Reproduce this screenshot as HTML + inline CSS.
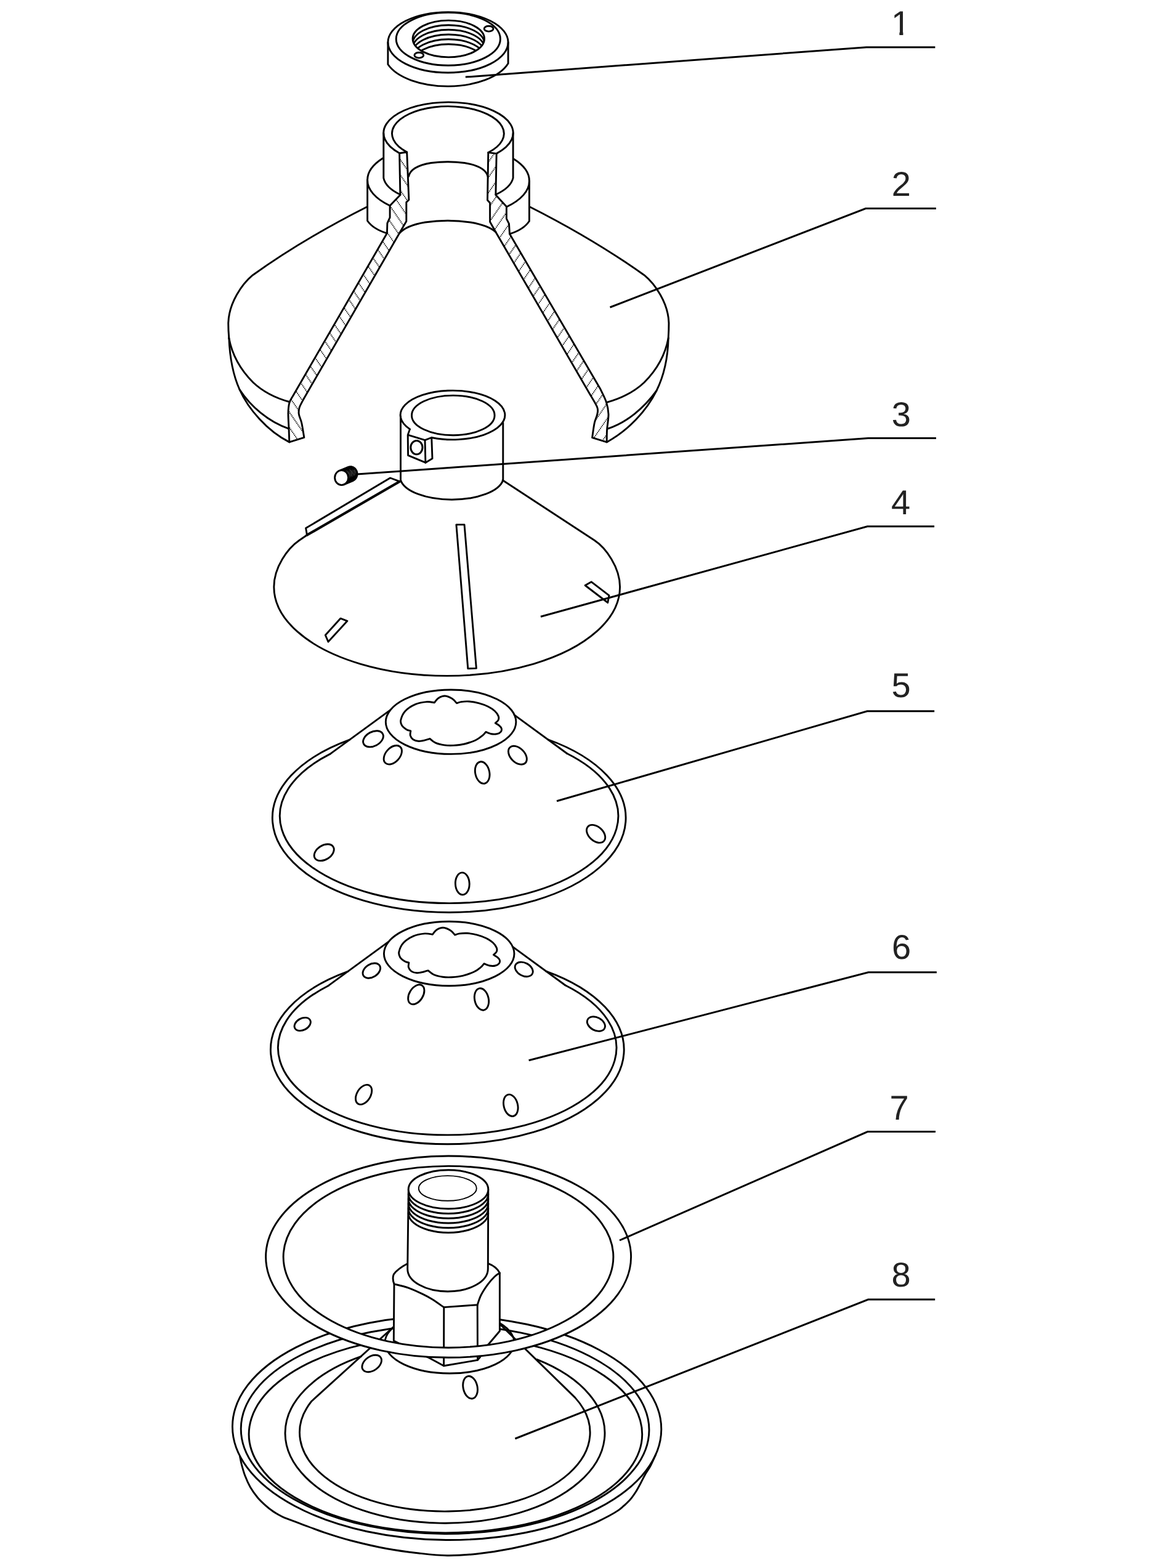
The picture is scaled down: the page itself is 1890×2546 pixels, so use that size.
<!DOCTYPE html>
<html lang="en">
<head>
<meta charset="utf-8">
<title>Exploded view</title>
<style>
html,body{margin:0;padding:0;background:#fff;}
body{width:1890px;height:2546px;overflow:hidden;}
svg{display:block;}
.l{fill:none;stroke:#000;stroke-width:2.9;stroke-linecap:round;stroke-linejoin:round;}
.w{fill:#fff;stroke:#000;stroke-width:2.9;stroke-linecap:round;stroke-linejoin:round;}
.t{fill:none;stroke:#000;stroke-width:1.5;stroke-linecap:round;stroke-linejoin:round;}
.ld{fill:none;stroke:#000;stroke-width:3;stroke-linecap:butt;stroke-linejoin:miter;}
.h{fill:none;stroke:#000;stroke-width:1.9;stroke-dasharray:1.5 1.3;}
text{font-family:"Liberation Sans",Arial,Helvetica,sans-serif;font-size:56px;fill:#222;text-rendering:geometricPrecision;}
</style>
</head>
<body>
<svg width="1890" height="2546" viewBox="0 0 1890 2546">
<g id="p1">
<path class="l" d="M629.9,69 L629.9,104.5 A103,53.45 0 0 0 825.1,103 L825.1,69"/>
<ellipse class="l" cx="727.5" cy="68.8" rx="97.6" ry="49.2"/>
<ellipse class="l" cx="727.8" cy="63.3" rx="84.6" ry="42.9"/>
<clipPath id="c1"><ellipse cx="728.3" cy="63" rx="58.2" ry="29.9"/></clipPath>
<g clip-path="url(#c1)">
<ellipse class="l" cx="728.3" cy="70.6" rx="58.2" ry="29.9"/>
<ellipse class="l" cx="728.3" cy="78.2" rx="58.2" ry="29.9"/>
<ellipse class="l" cx="728.3" cy="85.9" rx="58.2" ry="29.9"/>
<ellipse class="l" cx="728.3" cy="93.7" rx="58.2" ry="29.9"/>
<ellipse class="l" cx="728.3" cy="101.6" rx="58.2" ry="29.9"/>
</g>
<ellipse class="l" cx="728.3" cy="63" rx="58.2" ry="29.9"/>
<ellipse class="l" cx="793.6" cy="46.7" rx="7.4" ry="4.4"/>
<ellipse class="l" cx="680.3" cy="89.7" rx="7.4" ry="4.4"/>
</g>
<g id="p2">
<path class="l" d="M648.6,248.7A105.2,50 0 0 1 625.01,226.11A105.2,50 0 0 1 627.64,200.91A105.2,50 0 0 1 655.81,179.53A105.2,50 0 0 1 702.35,167.41A105.2,50 0 0 1 755.42,167.63A105.2,50 0 0 1 801.52,180.14A105.2,50 0 0 1 828.9,201.75A105.2,50 0 0 1 830.59,226.96A105.2,50 0 0 1 806.18,249.36"/>
<path class="l" d="M660.7,247A90.9,44.3 0 0 1 638.89,226.98A90.9,44.3 0 0 1 640.24,204.33A90.9,44.3 0 0 1 664.41,184.96A90.9,44.3 0 0 1 705.07,173.96A90.9,44.3 0 0 1 751.57,174.2A90.9,44.3 0 0 1 791.75,185.61A90.9,44.3 0 0 1 815.08,205.22A90.9,44.3 0 0 1 815.46,227.88A90.9,44.3 0 0 1 792.79,247.67"/>
<path class="l" d="M622.8,216 L622.8,289 A105.2,46 0 0 0 649.9,316"/>
<path class="l" d="M833.1,216 L833.1,289 A105.2,46 0 0 1 804.9,316"/>
<path class="l" d="M621.5,257 A131.4,60 0 0 0 596.6,292 L596.6,358.5 Q606,372 628.4,378.8"/>
<path class="l" d="M596.6,292 A131.4,60 0 0 0 633.1,334"/>
<path class="l" d="M834,258 A131.4,60 0 0 1 859.4,294 L859.4,359 Q850,373 827.5,379.8"/>
<path class="l" d="M859.4,294 A131.4,60 0 0 1 822.4,336"/>
<path class="l" d="M663.5,286.5 Q667,270 700,264.5 Q727,261 754,264.5 Q788,270 792,286.5"/>
<path class="l" d="M648.5,378.8 Q660,366 690,361 Q727,355.5 764,361 Q793,366 804.9,376.7"/>
<path class="l" d="M596.1,335.7 C540,364 470,404 410.4,446.7 C393,461 371.5,492 370.7,524.6 C370.7,533 371.1,541 371.8,549"/>
<path class="l" d="M860,335.7 C916,364 986,404 1046,446.7 C1063.5,461 1085.2,492 1086,524.6 C1086,533 1085.7,541 1085.2,549"/>
<path class="l" d="M371.8,549 C377,577 392,602 411,621 C428,637 448,646.5 469.8,652.5"/>
<path class="l" d="M371.8,549 C373,578 378,608 389,632.5 C403,664 434,700 469.8,717.9"/>
<path class="l" d="M389,632.5 C407,660 436,685 468.9,696.1"/>
<path class="l" d="M1085.2,549 C1080,577 1065,602 1046,621 C1029,637 1008,647 985.2,653.4"/>
<path class="l" d="M1085.2,549 C1084.5,580 1078,610 1066,634.4 C1050,667 1020,699 985.2,717.9"/>
<path class="l" d="M1066,634.4 C1046,662 1018,686 986.7,696.1"/>
<clipPath id="h2l"><path d="M648.6,248.7L649.9,316.5L633.1,334L633.1,353.1L628.9,362.3L628.4,378.8L475.3,643.4C474.38,645.22 471.02,649.75 469.8,654.3C468.58,658.85 468.13,663.75 468,670.7C467.87,677.65 468.7,688.13 469,696C469.3,703.87 469.67,714.25 469.8,717.9L493.8,710.3C493.13,706.42 491.22,693.3 489.8,687C488.38,680.7 485.9,676.73 485.3,672.5C484.7,668.27 484.83,665.85 486.2,661.6C487.57,657.35 492.28,649.43 493.5,647L648.5,378.8L659.8,359.2L659.8,328.4L663.9,324.5L660.7,247Z"/></clipPath>
<g clip-path="url(#h2l)">
<path class="h" d="M462.58,-88.33 L1061.06,782.94 M450.96,-80.35 L1049.44,790.93 M439.34,-72.37 L1037.81,798.91 M427.72,-64.38 L1026.19,806.89 M416.09,-56.4 L1014.57,814.88 M404.47,-48.42 L1002.95,822.86 M392.85,-40.44 L991.33,830.84 M381.23,-32.45 L979.7,838.83 M369.61,-24.47 L968.08,846.81 M357.98,-16.49 L956.46,854.79 M346.36,-8.5 L944.84,862.78 M334.74,-0.52 L933.21,870.76 M323.12,7.46 L921.59,878.74 M311.49,15.45 L909.97,886.73 M299.87,23.43 L898.35,894.71 M288.25,31.41 L886.72,902.69 M276.63,39.4 L875.1,910.68 M265,47.38 L863.48,918.66 M253.38,55.36 L851.86,926.64 M241.76,63.35 L840.24,934.63 M230.14,71.33 L828.61,942.61 M218.52,79.31 L816.99,950.59 M206.89,87.3 L805.37,958.58 M195.27,95.28 L793.75,966.56 M183.65,103.26 L782.12,974.54 M172.03,111.25 L770.5,982.53 M160.4,119.23 L758.88,990.51 M148.78,127.21 L747.26,998.49 M137.16,135.2 L735.64,1006.48 M125.54,143.18 L724.01,1014.46 M113.92,151.16 L712.39,1022.44 M102.29,159.15 L700.77,1030.43 M90.67,167.13 L689.15,1038.41 M79.05,175.11 L677.52,1046.39 M67.43,183.1 L665.9,1054.38"/>
</g>
<clipPath id="h2r"><path d="M806.18,249.36L804.9,316.5L822.4,335.5L822.4,355.1L826.5,363.4L827.5,379.8L974.3,630.7C975.97,634.33 982.02,645.53 984.3,652.5C986.58,659.47 987.78,664.93 988,672.5C988.22,680.07 986.07,690.33 985.6,697.9C985.13,705.47 985.27,714.57 985.2,717.9L961.6,710.6C962.2,706.67 963.83,693.35 965.2,687C966.57,680.65 969.03,676.73 969.8,672.5C970.57,668.27 971.47,666.45 969.8,661.6C968.13,656.75 961.47,646.43 959.8,643.4L804.9,376.7L795.6,360.3L795.6,329.4L791.5,325L792.79,247.67Z"/></clipPath>
<g clip-path="url(#h2r)">
<path class="h" d="M1392.9,186.75 L794.42,1058.03 M1381.27,178.77 L782.8,1050.05 M1369.65,170.79 L771.18,1042.06 M1358.03,162.8 L759.55,1034.08 M1346.41,154.82 L747.93,1026.1 M1334.78,146.84 L736.31,1018.11 M1323.16,138.85 L724.69,1010.13 M1311.54,130.87 L713.06,1002.15 M1299.92,122.89 L701.44,994.16 M1288.3,114.9 L689.82,986.18 M1276.67,106.92 L678.2,978.2 M1265.05,98.94 L666.58,970.22 M1253.43,90.95 L654.95,962.23 M1241.81,82.97 L643.33,954.25 M1230.18,74.99 L631.71,946.27 M1218.56,67 L620.09,938.28 M1206.94,59.02 L608.46,930.3 M1195.32,51.04 L596.84,922.32 M1183.7,43.05 L585.22,914.33 M1172.07,35.07 L573.6,906.35 M1160.45,27.09 L561.97,898.37 M1148.83,19.1 L550.35,890.38 M1137.21,11.12 L538.73,882.4 M1125.58,3.14 L527.11,874.42 M1113.96,-4.85 L515.49,866.43 M1102.34,-12.83 L503.86,858.45 M1090.72,-20.81 L492.24,850.47 M1079.09,-28.8 L480.62,842.48 M1067.47,-36.78 L469,834.5 M1055.85,-44.76 L457.37,826.52 M1044.23,-52.75 L445.75,818.53 M1032.61,-60.73 L434.13,810.55 M1020.98,-68.71 L422.51,802.57 M1009.36,-76.7 L410.89,794.58 M997.74,-84.68 L399.26,786.6 M986.12,-92.66 L387.64,778.62"/>
</g>
<path class="l" d="M648.6,248.7L649.9,316.5L633.1,334L633.1,353.1L628.9,362.3L628.4,378.8L475.3,643.4C474.38,645.22 471.02,649.75 469.8,654.3C468.58,658.85 468.13,663.75 468,670.7C467.87,677.65 468.7,688.13 469,696C469.3,703.87 469.67,714.25 469.8,717.9L493.8,710.3C493.13,706.42 491.22,693.3 489.8,687C488.38,680.7 485.9,676.73 485.3,672.5C484.7,668.27 484.83,665.85 486.2,661.6C487.57,657.35 492.28,649.43 493.5,647L648.5,378.8L659.8,359.2L659.8,328.4L663.9,324.5L660.7,247Z"/>
<path class="l" d="M806.18,249.36L804.9,316.5L822.4,335.5L822.4,355.1L826.5,363.4L827.5,379.8L974.3,630.7C975.97,634.33 982.02,645.53 984.3,652.5C986.58,659.47 987.78,664.93 988,672.5C988.22,680.07 986.07,690.33 985.6,697.9C985.13,705.47 985.27,714.57 985.2,717.9L961.6,710.6C962.2,706.67 963.83,693.35 965.2,687C966.57,680.65 969.03,676.73 969.8,672.5C970.57,668.27 971.47,666.45 969.8,661.6C968.13,656.75 961.47,646.43 959.8,643.4L804.9,376.7L795.6,360.3L795.6,329.4L791.5,325L792.79,247.67Z"/>
</g>
<g id="p4">
<path class="l" d="M665.45,696.89A84.9,39.9 0 0 1 650.44,677.55A84.9,39.9 0 0 1 657.92,657.28A84.9,39.9 0 0 1 685.91,641.45A84.9,39.9 0 0 1 726.96,634.28A84.9,39.9 0 0 1 770.15,637.68A84.9,39.9 0 0 1 803.99,650.74A84.9,39.9 0 0 1 819.47,669.99A84.9,39.9 0 0 1 812.48,690.31A84.9,39.9 0 0 1 784.88,706.29A84.9,39.9 0 0 1 744.01,713.67A84.9,39.9 0 0 1 700.74,710.51"/>
<ellipse class="l" cx="735.8" cy="674.4" rx="67.3" ry="32.3"/>
<path class="l" d="M665.45,696.89 L662.2,706.2 L690,714.6 L690.9,751.2 L662.6,739.4 L662.2,706.2"/>
<path class="l" d="M690,714.6 L700.74,710.51 L702,744.6 L690.9,751.2"/>
<ellipse class="l" cx="676.4" cy="726.6" rx="9.6" ry="11.2" style="stroke-width:3"/>
<path class="l" d="M650.5,676 L650.5,779.5 A84,37 0 0 0 816.8,779.5 L816.8,686.5"/>
<path class="l" d="M816.2,779.7 L965.1,877.3 C983.5,889.4 1006.6,921 1006.6,953A280.9,144.4 0 0 1 968.97,1025.2A280.9,144.4 0 0 1 866.15,1078.05A280.9,144.4 0 0 1 725.7,1097.4A280.9,144.4 0 0 1 585.25,1078.05A280.9,144.4 0 0 1 482.43,1025.2A280.9,144.4 0 0 1 444.8,953C444.8,921 467.3,890.3 485.4,877.8 L498.5,868.8"/>
<path class="l" d="M648.6,781.6 L633.6,776 L496.6,857.6 L498.5,868.8"/>
<path class="l" d="M498.5,868.8 L648.6,782" style="stroke-width:4.2"/>
<path class="l" d="M740.9,851.9 L754,851.9 L773.4,1085.1 L759.8,1085.6 Z"/>
<path class="l" d="M553,1004.1 L563.9,1008.3 L533,1042.1 L528.3,1031.2 Z"/>
<path class="l" d="M950.1,950.5 L960.3,944.8 L989,966.8 L986.8,978.5 Z"/>
</g>
<g id="p5" transform="translate(0,0)">
<path class="l" d="M920.7,1223.49A274.8,141.6 0 0 1 989.43,1279.66A274.8,141.6 0 0 1 1000.92,1345.8A274.8,141.6 0 0 1 952.63,1407.37A274.8,141.6 0 0 1 855.18,1450.82A274.8,141.6 0 0 1 730.01,1466.6A274.8,141.6 0 0 1 604.64,1451.24A274.8,141.6 0 0 1 506.63,1408.13A274.8,141.6 0 0 1 457.55,1346.73A274.8,141.6 0 0 1 468.19,1280.55A274.8,141.6 0 0 1 536.2,1224.15"/>
<path class="l" d="M889.64,1200.74A286.9,153.5 0 0 1 985.23,1258.73A286.9,153.5 0 0 1 1015.86,1334.29A286.9,153.5 0 0 1 973.76,1408.25A286.9,153.5 0 0 1 869.62,1461.86A286.9,153.5 0 0 1 729.86,1481.5A286.9,153.5 0 0 1 589.92,1462.2A286.9,153.5 0 0 1 485.32,1408.85A286.9,153.5 0 0 1 442.6,1334.99A286.9,153.5 0 0 1 472.58,1259.36A286.9,153.5 0 0 1 567.68,1201.14"/>
<path class="l" d="M632.7,1153.6 L536.2,1224.15"/>
<path class="l" d="M835.1,1160.8 L920.7,1223.49"/>
<ellipse class="l" cx="732.1" cy="1172.2" rx="105.8" ry="52.2"/>
<path class="l" d="M705.3,1140.9C703.18,1140.68 697.75,1139.15 692.6,1139.6C687.45,1140.05 680.15,1141.12 674.4,1143.6C668.65,1146.08 662.03,1150.27 658.1,1154.5C654.17,1158.73 651.72,1165.07 650.8,1169C649.88,1172.93 651.08,1175.53 652.6,1178.1C654.12,1180.67 657.53,1182.95 659.9,1184.4C662.27,1185.85 665.65,1186.4 666.8,1186.8C666.72,1188.07 665.63,1192.07 666.3,1194.4C666.97,1196.73 668.53,1199.28 670.8,1200.8C673.07,1202.32 676.57,1203.35 679.9,1203.5C683.23,1203.65 687.78,1202.37 690.8,1201.7C693.82,1201.03 696.8,1199.87 698,1199.5C699.52,1200.62 703.17,1204.47 707.1,1206.2C711.03,1207.93 716.75,1209.2 721.6,1209.9C726.45,1210.6 730.75,1210.72 736.2,1210.4C741.65,1210.08 748.25,1209.45 754.3,1208C760.35,1206.55 767.65,1203.97 772.5,1201.7C777.35,1199.43 780.68,1196.62 783.4,1194.4C786.12,1192.18 787.9,1189.4 788.8,1188.4C790.32,1188.95 794.87,1191.15 797.9,1191.7C800.93,1192.25 804.43,1192.3 807,1191.7C809.57,1191.1 812.1,1189.62 813.3,1188.1C814.5,1186.58 814.65,1184.27 814.2,1182.6C813.75,1180.93 812.25,1179.52 810.6,1178.1C808.95,1176.68 805.35,1174.77 804.3,1174.1C805.12,1173.25 808.38,1170.92 809.2,1169C810.02,1167.08 810.17,1165.02 809.2,1162.6C808.23,1160.18 806.18,1157.07 803.4,1154.5C800.62,1151.93 796.75,1149.32 792.5,1147.2C788.25,1145.08 783.05,1143.17 777.9,1141.8C772.75,1140.43 766.43,1139.37 761.6,1139C756.77,1138.63 752.23,1139.13 748.9,1139.6C745.57,1140.07 742.82,1141.43 741.6,1141.8C740.38,1140.58 737.48,1136.47 734.3,1134.5C731.12,1132.53 726.22,1130.17 722.5,1130C718.78,1129.83 714.87,1131.68 712,1133.5C709.13,1135.32 706.42,1139.67 705.3,1140.9Z"/>
<ellipse class="l" cx="606" cy="1199.8" rx="17.5" ry="11.5" transform="rotate(-28 606 1199.8)"/>
<ellipse class="l" cx="637.8" cy="1225.8" rx="17.8" ry="11.5" transform="rotate(-48 637.8 1225.8)"/>
<ellipse class="l" cx="783.2" cy="1254.6" rx="18" ry="11.5" transform="rotate(78 783.2 1254.6)"/>
<ellipse class="l" cx="840.4" cy="1226.3" rx="17.8" ry="11.5" transform="rotate(45 840.4 1226.3)"/>
<ellipse class="l" cx="967.6" cy="1353.9" rx="17.5" ry="11.5" transform="rotate(42 967.6 1353.9)"/>
<ellipse class="l" cx="526.2" cy="1384.2" rx="17.5" ry="11.5" transform="rotate(-32 526.2 1384.2)"/>
<ellipse class="l" cx="750.8" cy="1434.9" rx="18" ry="11.4" transform="rotate(88 750.8 1434.9)"/>
</g>
<g id="p6" transform="translate(-2.9,376.3)">
<path class="l" d="M920.7,1223.49A274.8,141.6 0 0 1 989.43,1279.66A274.8,141.6 0 0 1 1000.92,1345.8A274.8,141.6 0 0 1 952.63,1407.37A274.8,141.6 0 0 1 855.18,1450.82A274.8,141.6 0 0 1 730.01,1466.6A274.8,141.6 0 0 1 604.64,1451.24A274.8,141.6 0 0 1 506.63,1408.13A274.8,141.6 0 0 1 457.55,1346.73A274.8,141.6 0 0 1 468.19,1280.55A274.8,141.6 0 0 1 536.2,1224.15"/>
<path class="l" d="M889.64,1200.74A286.9,153.5 0 0 1 985.23,1258.73A286.9,153.5 0 0 1 1015.86,1334.29A286.9,153.5 0 0 1 973.76,1408.25A286.9,153.5 0 0 1 869.62,1461.86A286.9,153.5 0 0 1 729.86,1481.5A286.9,153.5 0 0 1 589.92,1462.2A286.9,153.5 0 0 1 485.32,1408.85A286.9,153.5 0 0 1 442.6,1334.99A286.9,153.5 0 0 1 472.58,1259.36A286.9,153.5 0 0 1 567.68,1201.14"/>
<path class="l" d="M632.7,1153.6 L536.2,1224.15"/>
<path class="l" d="M835.1,1160.8 L920.7,1223.49"/>
<ellipse class="l" cx="732.1" cy="1172.2" rx="105.8" ry="52.2"/>
<path class="l" d="M705.3,1140.9C703.18,1140.68 697.75,1139.15 692.6,1139.6C687.45,1140.05 680.15,1141.12 674.4,1143.6C668.65,1146.08 662.03,1150.27 658.1,1154.5C654.17,1158.73 651.72,1165.07 650.8,1169C649.88,1172.93 651.08,1175.53 652.6,1178.1C654.12,1180.67 657.53,1182.95 659.9,1184.4C662.27,1185.85 665.65,1186.4 666.8,1186.8C666.72,1188.07 665.63,1192.07 666.3,1194.4C666.97,1196.73 668.53,1199.28 670.8,1200.8C673.07,1202.32 676.57,1203.35 679.9,1203.5C683.23,1203.65 687.78,1202.37 690.8,1201.7C693.82,1201.03 696.8,1199.87 698,1199.5C699.52,1200.62 703.17,1204.47 707.1,1206.2C711.03,1207.93 716.75,1209.2 721.6,1209.9C726.45,1210.6 730.75,1210.72 736.2,1210.4C741.65,1210.08 748.25,1209.45 754.3,1208C760.35,1206.55 767.65,1203.97 772.5,1201.7C777.35,1199.43 780.68,1196.62 783.4,1194.4C786.12,1192.18 787.9,1189.4 788.8,1188.4C790.32,1188.95 794.87,1191.15 797.9,1191.7C800.93,1192.25 804.43,1192.3 807,1191.7C809.57,1191.1 812.1,1189.62 813.3,1188.1C814.5,1186.58 814.65,1184.27 814.2,1182.6C813.75,1180.93 812.25,1179.52 810.6,1178.1C808.95,1176.68 805.35,1174.77 804.3,1174.1C805.12,1173.25 808.38,1170.92 809.2,1169C810.02,1167.08 810.17,1165.02 809.2,1162.6C808.23,1160.18 806.18,1157.07 803.4,1154.5C800.62,1151.93 796.75,1149.32 792.5,1147.2C788.25,1145.08 783.05,1143.17 777.9,1141.8C772.75,1140.43 766.43,1139.37 761.6,1139C756.77,1138.63 752.23,1139.13 748.9,1139.6C745.57,1140.07 742.82,1141.43 741.6,1141.8C740.38,1140.58 737.48,1136.47 734.3,1134.5C731.12,1132.53 726.22,1130.17 722.5,1130C718.78,1129.83 714.87,1131.68 712,1133.5C709.13,1135.32 706.42,1139.67 705.3,1140.9Z"/>
<ellipse class="l" cx="606.2" cy="1199.8" rx="15.5" ry="10.5" transform="rotate(-32 606.2 1199.8)"/>
<ellipse class="l" cx="678.7" cy="1238.5" rx="17.5" ry="11" transform="rotate(-58 678.7 1238.5)"/>
<ellipse class="l" cx="784.9" cy="1246.2" rx="18" ry="11.3" transform="rotate(78 784.9 1246.2)"/>
<ellipse class="l" cx="853.6" cy="1197.6" rx="15.5" ry="10.5" transform="rotate(28 853.6 1197.6)"/>
<ellipse class="l" cx="494.1" cy="1286.7" rx="14" ry="9.5" transform="rotate(-28 494.1 1286.7)"/>
<ellipse class="l" cx="970.8" cy="1286.3" rx="15.5" ry="10.5" transform="rotate(28 970.8 1286.3)"/>
<ellipse class="l" cx="593.5" cy="1401.1" rx="17.5" ry="11" transform="rotate(-58 593.5 1401.1)"/>
<ellipse class="l" cx="832.2" cy="1418.5" rx="18" ry="11.3" transform="rotate(76 832.2 1418.5)"/>
</g>
<g id="p8">
<ellipse class="l" cx="725.6" cy="2318.5" rx="348.2" ry="182" transform="rotate(0.45 725.6 2318.5)"/>
<ellipse class="l" cx="722.6" cy="2321" rx="331.4" ry="169.5" transform="rotate(0.2 722.6 2321)"/>
<path class="l" d="M862,2184.1A319.2,160.3 0 0 1 981.29,2234.04A319.2,160.3 0 0 1 1039.54,2306.34A319.2,160.3 0 0 1 1022.94,2383.89A319.2,160.3 0 0 1 935.43,2448.33A319.2,160.3 0 0 1 797.73,2484.39A319.2,160.3 0 0 1 642.43,2483.56A319.2,160.3 0 0 1 506.3,2446.01A319.2,160.3 0 0 1 421.56,2380.65A319.2,160.3 0 0 1 408.28,2302.94A319.2,160.3 0 0 1 469.6,2231.28A319.2,160.3 0 0 1 591,2182.64"/>
<path class="l" d="M871.8,2207.42A259.5,146.2 0 0 1 956.63,2263.95A259.5,146.2 0 0 1 981.43,2336.65A259.5,146.2 0 0 1 939.86,2406.87A259.5,146.2 0 0 1 842.56,2456.61A259.5,146.2 0 0 1 714.48,2473.13A259.5,146.2 0 0 1 588.46,2452.19A259.5,146.2 0 0 1 496.8,2399.15A259.5,146.2 0 0 1 463,2327.61A259.5,146.2 0 0 1 495.73,2255.92A259.5,146.2 0 0 1 586.6,2202.45"/>
<path class="l" d="M810.6,2149 L933.8,2269.36A235.8,128.1 0 0 1 957.89,2331.46A235.8,128.1 0 0 1 924.16,2392.22A235.8,128.1 0 0 1 840.89,2436.72A235.8,128.1 0 0 1 728.51,2454.06A235.8,128.1 0 0 1 614.62,2439.96A235.8,128.1 0 0 1 527.15,2397.9A235.8,128.1 0 0 1 487.57,2338.19A235.8,128.1 0 0 1 505.6,2275.5L640,2153.5"/>
<path class="l" d="M389.6,2365.1C390.07,2367.32 391,2373.15 392.4,2378.4C393.8,2383.65 395.67,2390.55 398,2396.6C400.33,2402.65 403,2408.85 406.4,2414.7C409.8,2420.55 414.38,2426.85 418.4,2431.7C422.42,2436.55 426.47,2440.17 430.5,2443.8C434.53,2447.43 438.57,2450.67 442.6,2453.5C446.63,2456.33 451.47,2458.98 454.7,2460.8C457.93,2462.62 460.78,2463.8 462,2464.4C466.85,2466.22 480.2,2471.27 491.1,2475.3C502,2479.33 514.25,2484.23 527.4,2488.6C540.55,2492.97 553.1,2497.13 570,2501.5C586.9,2505.87 610.47,2511.38 628.8,2514.8C647.13,2518.22 663.8,2520.18 680,2522C696.2,2523.82 710.17,2525.53 726,2525.7C741.83,2525.87 757.67,2524.87 775,2523C792.33,2521.13 810.48,2518.42 830,2514.5C849.52,2510.58 877.72,2503.32 892.1,2499.5C906.48,2495.68 904.98,2495.67 916.3,2491.6C927.62,2487.53 950.3,2478.93 960,2475.1C969.7,2471.27 969.67,2470.9 974.5,2468.6C979.33,2466.3 984.15,2463.97 989,2461.3C993.85,2458.63 999.97,2455.02 1003.6,2452.6C1007.23,2450.18 1008.38,2448.85 1010.8,2446.8C1013.22,2444.75 1015.67,2442.72 1018.1,2440.3C1020.53,2437.88 1022.98,2435.33 1025.4,2432.3C1027.82,2429.27 1030.18,2425.98 1032.6,2422.1C1035.02,2418.22 1037.43,2413.6 1039.9,2409C1042.37,2404.4 1044.67,2399.33 1047.4,2394.5C1050.13,2389.67 1053.42,2385.45 1056.3,2380C1059.18,2374.55 1063.3,2364.83 1064.7,2361.8"/>
<ellipse class="l" cx="730" cy="2180" rx="105" ry="50"/>
<ellipse class="l" cx="603.7" cy="2214" rx="17.5" ry="11.5" transform="rotate(-35 603.7 2214)"/>
<ellipse class="l" cx="763.6" cy="2252.7" rx="18.5" ry="11.5" transform="rotate(78 763.6 2252.7)"/>
</g>
<g id="bolt">
<path class="w" d="M661.7,2051.8 Q646,2060 639.3,2069.1 Q636.5,2076 640,2084.9 L639.3,2177 L697.6,2205.3 L720.6,2217.8 L775.5,2208.4 L779.4,2203.7 L792.8,2183.2 L811.4,2161.2 L811.4,2066.8 Q806,2056.5 792.3,2051.3 Z"/>
<path class="l" d="M640,2084.9C643.83,2085.93 655.23,2088.35 663,2091.1C670.77,2093.85 680.05,2098.25 686.6,2101.4C693.15,2104.55 696.63,2106.47 702.3,2110C707.97,2113.53 717.55,2120.5 720.6,2122.6L775.2,2118.7C776.17,2116.08 778.2,2108.52 781,2103C783.8,2097.48 788.33,2090.6 792,2085.6C795.67,2080.6 799.77,2076.13 803,2073C806.23,2069.87 810,2067.83 811.4,2066.8"/>
<path class="l" d="M720.8,2122.6 L720.6,2217.8"/>
<path class="l" d="M775.2,2118.7 L775.5,2208.4"/>
<path class="w" d="M663.3,1931.2 L661.7,2060.5 A65.3,36.5 0 0 0 792.3,2060.5 L792.8,1931.2 Z"/>
<path class="l" d="M792.8,1938.95A64.8,31.5 0 0 1 784.12,1954.7A64.8,31.5 0 0 1 760.4,1966.23A64.8,31.5 0 0 1 728,1970.45A64.8,31.5 0 0 1 695.6,1966.23A64.8,31.5 0 0 1 671.88,1954.7A64.8,31.5 0 0 1 663.2,1938.95M792.8,1946.7A64.8,31.5 0 0 1 784.12,1962.45A64.8,31.5 0 0 1 760.4,1973.98A64.8,31.5 0 0 1 728,1978.2A64.8,31.5 0 0 1 695.6,1973.98A64.8,31.5 0 0 1 671.88,1962.45A64.8,31.5 0 0 1 663.2,1946.7M792.8,1954.45A64.8,31.5 0 0 1 784.12,1970.2A64.8,31.5 0 0 1 760.4,1981.73A64.8,31.5 0 0 1 728,1985.95A64.8,31.5 0 0 1 695.6,1981.73A64.8,31.5 0 0 1 671.88,1970.2A64.8,31.5 0 0 1 663.2,1954.45M792.8,1962.2A64.8,31.5 0 0 1 784.12,1977.95A64.8,31.5 0 0 1 760.4,1989.48A64.8,31.5 0 0 1 728,1993.7A64.8,31.5 0 0 1 695.6,1989.48A64.8,31.5 0 0 1 671.88,1977.95A64.8,31.5 0 0 1 663.2,1962.2M792.8,1969.95A64.8,31.5 0 0 1 784.12,1985.7A64.8,31.5 0 0 1 760.4,1997.23A64.8,31.5 0 0 1 728,2001.45A64.8,31.5 0 0 1 695.6,1997.23A64.8,31.5 0 0 1 671.88,1985.7A64.8,31.5 0 0 1 663.2,1969.95"/>
<ellipse class="w" cx="728" cy="1931.2" rx="64.8" ry="31.5"/>
<ellipse class="l" cx="726.8" cy="1929.4" rx="47" ry="20.3" style="stroke-width:1.9"/>
</g>
<g id="p7">
<path class="w" fill-rule="evenodd" d="M1024.6,2040.65A296.5,163.65 0 0 1 728.1,2204.3A296.5,163.65 0 0 1 431.6,2040.65A296.5,163.65 0 0 1 728.1,1877A296.5,163.65 0 0 1 1024.6,2040.65ZM995.9,2040.8A267.9,147.4 0 0 1 728,2188.2A267.9,147.4 0 0 1 460.1,2040.8A267.9,147.4 0 0 1 728,1893.4A267.9,147.4 0 0 1 995.9,2040.8Z"/>
</g>
<g id="labels">
<polyline class="ld" points="755.8,125.1 1406.8,76.7 1518.4,76.7"/>
<clipPath id="one"><path d="M1436,0 H1486 V51.6 H1466.4 V60 H1460.4 V51.6 H1436 Z"/></clipPath>
<text x="1447" y="56.7" clip-path="url(#one)">1</text>
<polyline class="ld" points="990.5,499 1405.6,338.5 1519.9,338.5"/>
<text x="1447.8" y="318">2</text>
<polyline class="ld" points="579.7,770.1 1409.6,711.6 1520,711.6"/>
<text x="1447.8" y="691.6">3</text>
<polyline class="ld" points="877.9,1001.3 1408.3,854.8 1517.1,854.8"/>
<text x="1446.9" y="834.8">4</text>
<polyline class="ld" points="904,1300.8 1408,1154.8 1517.2,1154.8"/>
<text x="1447.6" y="1132">5</text>
<polyline class="ld" points="858.6,1721.8 1409.9,1578.8 1520.9,1578.8"/>
<text x="1447.9" y="1556.6">6</text>
<polyline class="ld" points="1006,2014 1408.7,1837.6 1519,1837.6"/>
<text x="1444.5" y="1817.6">7</text>
<polyline class="ld" points="836.4,2336 1409.6,2110.1 1518.2,2110.1"/>
<text x="1447.5" y="2089.2">8</text>
</g>
<g id="p3">
<path class="w" d="M550.48,764.47 L564.88,758.47A11,12 0 0 1 570.53,757.72A11,12 0 0 1 575.77,760.14A11,12 0 0 1 579.2,765.1A11,12 0 0 1 579.89,771.27A11,12 0 0 1 577.67,776.99A11,12 0 0 1 573.12,780.73L558.72,786.73"/>
<path class="t" d="M552.64,763.59A11,12 0 0 1 558.08,763.21A11,12 0 0 1 563.01,765.72A11,12 0 0 1 566.24,770.5A11,12 0 0 1 566.97,776.39A11,12 0 0 1 565.01,781.94A11,12 0 0 1 560.86,785.79M554.26,762.91A11,12 0 0 1 559.7,762.53A11,12 0 0 1 564.63,765.04A11,12 0 0 1 567.86,769.83A11,12 0 0 1 568.59,775.72A11,12 0 0 1 566.63,781.26A11,12 0 0 1 562.48,785.11M555.88,762.24A11,12 0 0 1 561.32,761.86A11,12 0 0 1 566.25,764.37A11,12 0 0 1 569.48,769.15A11,12 0 0 1 570.21,775.04A11,12 0 0 1 568.25,780.59A11,12 0 0 1 564.1,784.44M557.5,761.56A11,12 0 0 1 562.94,761.18A11,12 0 0 1 567.87,763.69A11,12 0 0 1 571.1,768.48A11,12 0 0 1 571.83,774.37A11,12 0 0 1 569.87,779.91A11,12 0 0 1 565.72,783.76M559.12,760.89A11,12 0 0 1 564.56,760.51A11,12 0 0 1 569.49,763.02A11,12 0 0 1 572.72,767.8A11,12 0 0 1 573.45,773.69A11,12 0 0 1 571.49,779.24A11,12 0 0 1 567.34,783.09M560.74,760.21A11,12 0 0 1 566.18,759.83A11,12 0 0 1 571.11,762.34A11,12 0 0 1 574.34,767.13A11,12 0 0 1 575.07,773.02A11,12 0 0 1 573.11,778.56A11,12 0 0 1 568.96,782.41M562.36,759.54A11,12 0 0 1 567.8,759.16A11,12 0 0 1 572.73,761.67A11,12 0 0 1 575.96,766.45A11,12 0 0 1 576.69,772.34A11,12 0 0 1 574.73,777.89A11,12 0 0 1 570.58,781.74M563.98,758.86A11,12 0 0 1 569.42,758.48A11,12 0 0 1 574.35,760.99A11,12 0 0 1 577.58,765.78A11,12 0 0 1 578.31,771.67A11,12 0 0 1 576.35,777.21A11,12 0 0 1 572.2,781.06"/>
<ellipse class="w" cx="554.6" cy="775.6" rx="11" ry="12"/>
</g>
</svg>
</body>
</html>
